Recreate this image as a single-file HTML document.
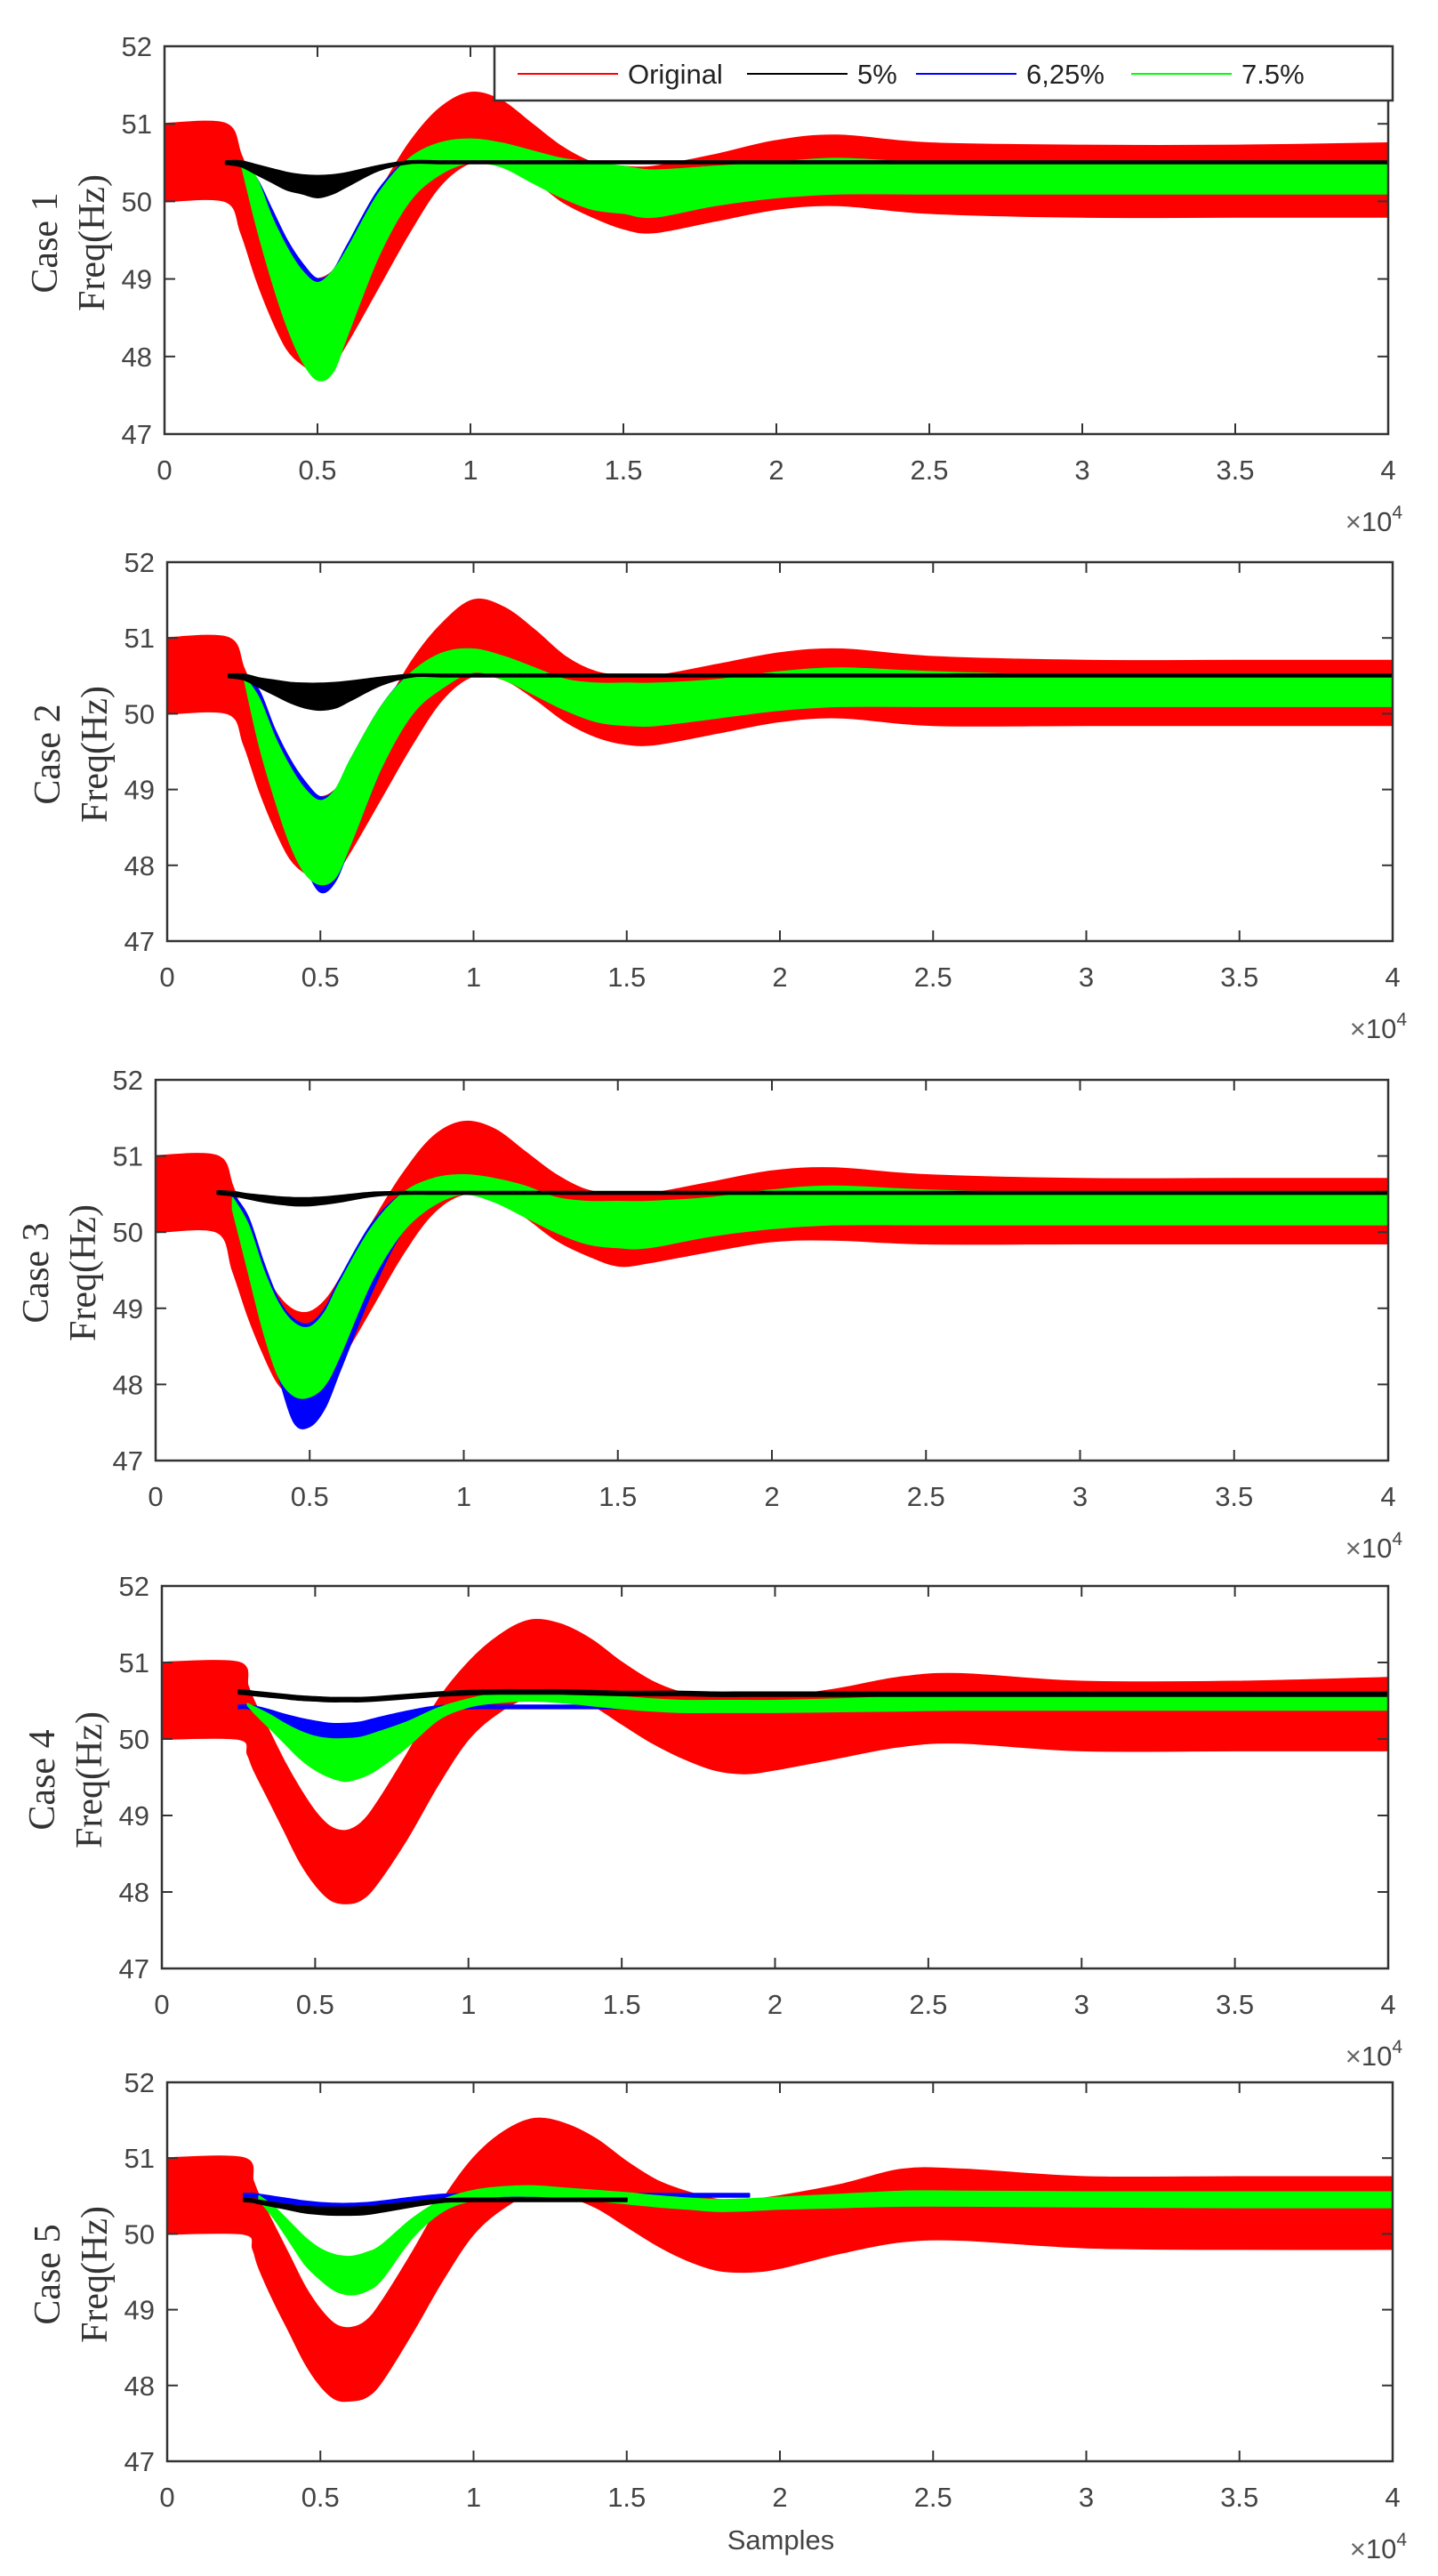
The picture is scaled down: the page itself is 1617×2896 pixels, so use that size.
<!DOCTYPE html>
<html><head><meta charset="utf-8">
<style>
html,body{margin:0;padding:0;background:#fff;}
svg{display:block;}
.tk{font-family:"Liberation Sans",sans-serif;font-size:31px;fill:#444;}
.yl{font-family:"Liberation Serif",serif;font-size:42px;fill:#333;}
</style></head>
<body>
<svg id="fig" width="1617" height="2896" viewBox="0 0 1617 2896" xmlns="http://www.w3.org/2000/svg"></svg>
<script>
// ---- data (x in units of 1e4 samples, y in Hz) ----
const gridA = [0,0.2,0.25,0.3,0.35,0.4,0.45,0.5,0.55,0.6,0.7,0.8,0.9,1.0,1.1,1.2,1.3,1.4,1.5,1.6,1.8,2.0,2.2,2.5,3.0,3.5,4.0];
const gridB = [0,0.25,0.28,0.3,0.35,0.4,0.45,0.5,0.55,0.6,0.65,0.7,0.8,0.9,1.0,1.1,1.2,1.3,1.4,1.5,1.6,1.7,1.8,1.9,2.0,2.2,2.4,2.6,3.0,3.5,4.0];
const n = null;
const xTicks = [0,0.5,1,1.5,2,2.5,3,3.5,4];
const xTickLabels = ["0","0.5","1","1.5","2","2.5","3","3.5","4"];
const yTicks = [47,48,49,50,51,52];
const yTickLabels = ["47","48","49","50","51","52"];
const caseLabels = ["Case 1","Case 2","Case 3","Case 4","Case 5"];
const legendLabels = ["Original","5%","6,25%","7.5%"];

// Case 1
const red1Hi = [51,51,50.6,50.1,49.6,49.3,49.05,49.0,49.1,49.4,50.1,50.75,51.2,51.4,51.3,51.0,50.7,50.5,50.45,50.45,50.6,50.78,50.85,50.75,50.72,50.72,50.75];
const red1Lo = [50,50,49.6,49.0,48.5,48.1,47.9,47.8,47.9,48.2,48.9,49.6,50.2,50.5,50.5,50.3,50.0,49.8,49.65,49.6,49.75,49.9,49.95,49.85,49.8,49.8,49.8];
const blk1Hi = [n,50.52,50.52,50.47,50.42,50.37,50.34,50.33,50.34,50.37,50.46,50.52,50.52,50.52,50.52,50.52,50.52,50.52,50.52,50.52,50.52,50.52,50.52,50.52,50.52,50.52,50.52];
const blk1Lo = [n,50.48,50.45,50.35,50.25,50.15,50.1,50.05,50.1,50.2,50.4,50.49,50.49,50.49,50.49,50.49,50.49,50.49,50.49,50.49,50.49,50.49,50.49,50.49,50.49,50.49,50.49];
const blu1Hi = [n,n,50.5,50.3,49.9,49.5,49.2,49.0,49.1,49.45,50.15,50.55,50.7,50.6,n,n,n,n,n,n,n,n,n,n,n,n,n];
const blu1Lo = [n,n,50.5,49.9,49.3,48.8,48.4,48.3,48.4,48.8,49.7,50.3,50.5,50.55,n,n,n,n,n,n,n,n,n,n,n,n,n];
const grn1Hi = [n,n,50.5,50.3,49.8,49.4,49.1,48.95,49.1,49.4,50.1,50.55,50.75,50.8,50.75,50.65,50.55,50.5,50.45,50.4,50.45,50.5,50.55,50.5,50.5,50.5,50.5];
const grn1Lo = [n,n,50.5,49.7,49.0,48.4,47.95,47.7,47.8,48.3,49.3,50.0,50.35,50.5,50.45,50.25,50.05,49.9,49.85,49.8,49.95,50.05,50.1,50.1,50.1,50.1,50.1];

// Case 2
const red2Hi = [51,51,50.6,50.1,49.6,49.25,49.0,48.9,49.0,49.3,50.0,50.7,51.2,51.5,51.4,51.1,50.75,50.55,50.5,50.5,50.65,50.8,50.85,50.75,50.7,50.7,50.7];
const red2Lo = [50,50,49.6,49.0,48.5,48.1,47.9,47.8,47.9,48.2,48.9,49.6,50.2,50.5,50.45,50.2,49.9,49.7,49.6,49.6,49.75,49.9,49.95,49.85,49.85,49.85,49.85];
const blk2Hi = [n,50.52,50.52,50.47,50.44,50.41,50.4,50.4,50.41,50.43,50.48,50.52,50.52,50.52,50.52,50.52,50.52,50.52,50.52,50.52,50.52,50.52,50.52,50.52,50.52,50.52,50.52];
const blk2Lo = [n,50.48,50.45,50.35,50.25,50.15,50.08,50.05,50.08,50.18,50.38,50.49,50.49,50.49,50.49,50.49,50.49,50.49,50.49,50.49,50.49,50.49,50.49,50.49,50.49,50.49,50.49];
const blu2Hi = [n,n,50.5,50.3,49.8,49.4,49.1,48.9,49.0,49.4,50.1,50.55,50.7,50.65,n,n,n,n,n,n,n,n,n,n,n,n,n];
const blu2Lo = [n,n,50.5,49.8,49.1,48.5,48.0,47.65,47.8,48.3,49.3,50.1,50.4,50.55,n,n,n,n,n,n,n,n,n,n,n,n,n];
const grn2Hi = [n,n,50.5,50.2,49.7,49.3,49.0,48.85,49.0,49.4,50.1,50.55,50.8,50.85,50.75,50.6,50.45,50.4,50.4,50.4,50.45,50.55,50.6,50.55,50.5,50.5,50.5];
const grn2Lo = [n,n,50.5,49.6,48.9,48.3,47.9,47.75,47.85,48.3,49.3,50.0,50.35,50.55,50.45,50.25,50.05,49.9,49.85,49.85,49.95,50.05,50.1,50.1,50.1,50.1,50.1];

// Case 3
const red3Hi = [51,51,50.6,50.0,49.5,49.15,48.97,48.95,49.1,49.4,50.1,50.75,51.25,51.45,51.35,51.05,50.75,50.55,50.5,50.5,50.65,50.8,50.84,50.75,50.7,50.7,50.7];
const red3Lo = [50,50,49.5,48.9,48.4,48.0,47.85,47.8,47.95,48.3,49.0,49.7,50.25,50.5,50.45,50.2,49.9,49.7,49.56,49.6,49.75,49.88,49.9,49.85,49.85,49.85,49.85];
const blk3Hi = [n,50.54,50.53,50.5,50.48,50.46,50.45,50.45,50.46,50.48,50.52,50.53,50.53,50.53,50.53,50.53,50.53,50.53,50.53,50.53,50.53,50.53,50.53,50.53,50.53,50.53,50.53];
const blk3Lo = [n,50.5,50.48,50.44,50.4,50.37,50.35,50.35,50.37,50.4,50.47,50.5,50.5,50.5,50.5,50.5,50.5,50.5,50.5,50.5,50.5,50.5,50.5,50.5,50.5,50.5,50.5];
const blu3Hi = [n,n,50.5,50.2,49.6,49.1,48.85,48.8,49.0,49.4,50.1,50.5,50.65,50.65,n,n,n,n,n,n,n,n,n,n,n,n,n];
const blu3Lo = [n,n,50.4,49.6,48.8,48.1,47.5,47.45,47.7,48.2,49.2,50.0,50.35,50.55,n,n,n,n,n,n,n,n,n,n,n,n,n];
const grn3Hi = [n,n,50.45,50.1,49.5,49.05,48.8,48.75,48.95,49.35,50.05,50.5,50.7,50.75,50.7,50.6,50.45,50.4,50.4,50.4,50.45,50.55,50.6,50.55,50.5,50.5,50.5];
const grn3Lo = [n,n,50.3,49.5,48.7,48.1,47.85,47.84,48.0,48.4,49.35,50.0,50.35,50.5,50.4,50.2,50.0,49.85,49.8,49.8,49.95,50.05,50.1,50.1,50.1,50.1,50.1];

// Case 4
const red4Hi = [51,51,50.7,50.5,50.1,49.7,49.35,49.05,48.85,48.8,48.9,49.15,49.8,50.5,51.0,51.35,51.55,51.5,51.3,51.0,50.75,50.6,50.55,50.55,50.55,50.65,50.8,50.85,50.75,50.75,50.8];
const red4Lo = [50,50,49.8,49.6,49.2,48.8,48.4,48.1,47.9,47.85,47.9,48.1,48.7,49.4,50.0,50.35,50.55,50.55,50.45,50.2,49.95,49.75,49.6,49.55,49.6,49.75,49.9,49.95,49.85,49.85,49.85];
const blk4Hi = [n,50.64,50.63,50.62,50.6,50.58,50.56,50.55,50.54,50.54,50.54,50.55,50.58,50.61,50.63,50.64,50.64,50.64,50.63,50.62,50.62,50.62,50.61,50.61,50.61,50.61,50.61,50.61,50.61,50.61,50.61];
const blk4Lo = [n,50.59,50.58,50.57,50.55,50.53,50.51,50.5,50.49,50.49,50.49,50.5,50.53,50.56,50.58,50.59,50.59,50.59,50.58,50.57,50.57,50.57,50.56,50.56,50.56,50.56,50.56,50.56,50.56,50.56,50.56];
const blu4Hi = [n,50.44,50.44,50.43,50.38,50.32,50.27,50.23,50.2,50.2,50.22,50.27,50.36,50.43,50.44,50.44,50.44,50.44,50.44,50.44,50.44,50.44,50.44,50.44,50.44,50.44,50.44,50.44,50.44,50.44,50.44];
const blu4Lo = [n,50.4,50.4,50.36,50.25,50.13,50.02,49.95,49.9,49.9,49.93,50.02,50.22,50.38,50.4,50.4,50.4,50.4,50.4,50.4,50.4,50.4,50.4,50.4,50.4,50.4,50.4,50.4,50.4,50.4,50.4];
const grn4Hi = [n,n,50.46,50.42,50.32,50.2,50.1,50.03,50.0,50.0,50.02,50.08,50.22,50.4,50.52,50.6,50.63,50.62,50.58,50.55,50.52,50.5,50.5,50.5,50.5,50.52,50.55,50.56,50.56,50.57,50.58];
const grn4Lo = [n,n,50.44,50.35,50.15,49.95,49.75,49.6,49.5,49.45,49.5,49.6,49.9,50.25,50.42,50.48,50.5,50.48,50.44,50.4,50.37,50.35,50.35,50.35,50.35,50.36,50.37,50.38,50.38,50.38,50.38];

// Case 5
const red5Hi = [51,51,50.7,50.5,50.1,49.7,49.3,49.0,48.8,48.76,48.85,49.1,49.75,50.45,51.0,51.35,51.52,51.45,51.25,50.95,50.7,50.55,50.45,50.45,50.5,50.65,50.85,50.85,50.75,50.75,50.75];
const red5Lo = [50,50,49.8,49.55,49.1,48.7,48.3,48.0,47.82,47.8,47.85,48.05,48.7,49.4,50.0,50.35,50.55,50.5,50.35,50.1,49.85,49.65,49.52,49.5,49.55,49.75,49.9,49.92,49.82,49.8,49.8];
const blk5Hi = [n,50.47,50.46,50.44,50.41,50.38,50.36,50.35,50.35,50.35,50.36,50.38,50.42,50.46,50.47,50.47,50.47,50.47,50.47,50.47,n,n,n,n,n,n,n,n,n,n,n];
const blk5Lo = [n,50.43,50.42,50.4,50.36,50.32,50.28,50.26,50.25,50.25,50.26,50.29,50.36,50.42,50.43,50.43,50.43,50.43,50.43,50.43,n,n,n,n,n,n,n,n,n,n,n];
const blu5Hi = [n,50.53,50.53,50.52,50.49,50.46,50.43,50.41,50.4,50.4,50.41,50.43,50.48,50.52,50.53,50.53,50.53,50.53,50.53,50.53,50.53,50.53,50.53,50.53,n,n,n,n,n,n,n];
const blu5Lo = [n,50.49,50.49,50.47,50.42,50.38,50.34,50.31,50.3,50.3,50.31,50.34,50.41,50.47,50.49,50.49,50.49,50.49,50.49,50.49,50.49,50.49,50.49,50.49,n,n,n,n,n,n,n];
const grn5Hi = [n,n,n,50.5,50.35,50.15,49.95,49.8,49.72,49.7,49.75,49.85,50.2,50.45,50.57,50.62,50.63,50.6,50.57,50.54,50.5,50.47,50.45,50.46,50.48,50.52,50.56,50.56,50.55,50.55,50.55];
const grn5Lo = [n,n,n,50.45,50.2,49.9,49.6,49.4,49.25,49.2,49.25,49.4,49.95,50.3,50.45,50.5,50.5,50.48,50.44,50.4,50.36,50.33,50.3,50.31,50.33,50.35,50.37,50.37,50.36,50.35,50.35];

// ---- layout ----
const panels = [
  {grid:gridA, L:185, R:1561, T:52, B:488, red:[red1Hi,red1Lo], blk:[blk1Hi,blk1Lo], blu:[blu1Hi,blu1Lo], grn:[grn1Hi,grn1Lo]},
  {grid:gridA, L:188, R:1566, T:632, B:1058, red:[red2Hi,red2Lo], blk:[blk2Hi,blk2Lo], blu:[blu2Hi,blu2Lo], grn:[grn2Hi,grn2Lo]},
  {grid:gridA, L:175, R:1561, T:1214, B:1642, red:[red3Hi,red3Lo], blk:[blk3Hi,blk3Lo], blu:[blu3Hi,blu3Lo], grn:[grn3Hi,grn3Lo]},
  {grid:gridB, L:182, R:1561, T:1783, B:2213, red:[red4Hi,red4Lo], blk:[blk4Hi,blk4Lo], blu:[blu4Hi,blu4Lo], grn:[grn4Hi,grn4Lo]},
  {grid:gridB, L:188, R:1566, T:2341, B:2767, red:[red5Hi,red5Lo], blk:[blk5Hi,blk5Lo], blu:[blu5Hi,blu5Lo], grn:[grn5Hi,grn5Lo]}
];
const NS = "http://www.w3.org/2000/svg";
const svg = document.getElementById('fig');
function mk(tag, attrs, parent){
  const e = document.createElementNS(NS, tag);
  for (const k in attrs) e.setAttribute(k, attrs[k]);
  parent.appendChild(e);
  return e;
}
// Catmull-Rom smooth segment string through points (excluding initial move)
function smooth(pts){
  let d = '';
  for (let i=0;i<pts.length-1;i++){
    const p0 = pts[Math.max(i-1,0)], p1 = pts[i], p2 = pts[i+1], p3 = pts[Math.min(i+2,pts.length-1)];
    const c1x = p1[0] + (p2[0]-p0[0])/6, c1y = p1[1] + (p2[1]-p0[1])/6;
    const c2x = p2[0] - (p3[0]-p1[0])/6, c2y = p2[1] - (p3[1]-p1[1])/6;
    d += ' C'+c1x.toFixed(1)+','+c1y.toFixed(1)+' '+c2x.toFixed(1)+','+c2y.toFixed(1)+' '+p2[0].toFixed(1)+','+p2[1].toFixed(1);
  }
  return d;
}
function band(g, grid, hi, lo, sx, sy, color, name){
  const idx = [];
  for (let i=0;i<grid.length;i++) if (hi[i]!==null && lo[i]!==null && hi[i]!==undefined) idx.push(i);
  if (!idx.length) return;
  const top = idx.map(i => [sx(grid[i]), sy(hi[i])]);
  const bot = idx.slice().reverse().map(i => [sx(grid[i]), sy(lo[i])]);
  const d = 'M'+top[0][0].toFixed(1)+','+top[0][1].toFixed(1) + smooth(top) +
            ' L'+bot[0][0].toFixed(1)+','+bot[0][1].toFixed(1) + smooth(bot) + ' Z';
  const p = mk('path', {d:d, fill:color, stroke:color, 'stroke-width':2, 'stroke-linejoin':'round'}, g);
  
  
}
panels.forEach((P, k) => {
  const g = mk('g', {}, svg);
  
  
  const sx = v => P.L + (v/4)*(P.R-P.L);
  const sy = v => P.B - ((v-47)/5)*(P.B-P.T);
  band(g, P.grid, P.red[0], P.red[1], sx, sy, '#ff0000', 'series-original');
  band(g, P.grid, P.blu[0], P.blu[1], sx, sy, '#0000ff', 'series-6-25pct');
  band(g, P.grid, P.grn[0], P.grn[1], sx, sy, '#00ff00', 'series-7-5pct');
  band(g, P.grid, P.blk[0], P.blk[1], sx, sy, '#000000', 'series-5pct');
  const box = mk('rect', {x:P.L, y:P.T, width:P.R-P.L, height:P.B-P.T, fill:'none', stroke:'#333', 'stroke-width':2.5}, g);
  
  
  xTicks.forEach((t,i) => {
    const x = sx(t);
    mk('line', {x1:x, y1:P.B, x2:x, y2:P.B-12, stroke:'#333', 'stroke-width':2}, g);
    mk('line', {x1:x, y1:P.T, x2:x, y2:P.T+12, stroke:'#333', 'stroke-width':2}, g);
    const tx = mk('text', {x:x, y:P.B+51, 'text-anchor':'middle', class:'tk'}, g);
    tx.textContent = xTickLabels[i];
    
    
  });
  yTicks.forEach((t,i) => {
    const y = sy(t);
    mk('line', {x1:P.L, y1:y, x2:P.L+12, y2:y, stroke:'#333', 'stroke-width':2}, g);
    mk('line', {x1:P.R, y1:y, x2:P.R-12, y2:y, stroke:'#333', 'stroke-width':2}, g);
    const ty = mk('text', {x:P.L-14, y:y+11, 'text-anchor':'end', class:'tk'}, g);
    ty.textContent = yTickLabels[i];
    
    
  });
  const mid = (P.T+P.B)/2 + 3;
  const c1 = mk('text', {x:0, y:0, 'text-anchor':'middle', class:'yl', transform:'translate('+(P.L-121)+','+mid+') rotate(-90)'}, g);
  c1.textContent = caseLabels[k];
  
  
  const c2 = mk('text', {x:0, y:0, 'text-anchor':'middle', class:'yl', transform:'translate('+(P.L-68)+','+mid+') rotate(-90)'}, g);
  c2.textContent = 'Freq(Hz)';
  
  
  const ex = mk('text', {x:P.R+16, y:P.B+109, 'text-anchor':'end', class:'tk'}, g);
  ex.innerHTML = '<tspan fill="#666">×</tspan>10<tspan dy="-14" font-size="21">4</tspan>';
  
  
});
// legend
const lg = mk('g', {}, svg);


const lr = mk('rect', {x:556, y:52, width:1010, height:61, fill:'#fff', stroke:'#333', 'stroke-width':2.5}, lg);


const legColors = ['#ff0000','#000000','#0000ff','#00ff00'];
const legLineX = [582, 840, 1030, 1272];
legLineX.forEach((x,i) => {
  const ln = mk('line', {x1:x, y1:83, x2:x+113, y2:83, stroke:legColors[i], 'stroke-width':2}, lg);
  
  
  const t = mk('text', {x:x+124, y:94, class:'tk'}, lg);
  t.setAttribute('style', 'fill:#222');
  t.textContent = legendLabels[i];
  
  
});
const sm = mk('text', {x:878, y:2866, 'text-anchor':'middle', class:'tk'}, svg);
sm.textContent = 'Samples';


</script>
</body></html>
